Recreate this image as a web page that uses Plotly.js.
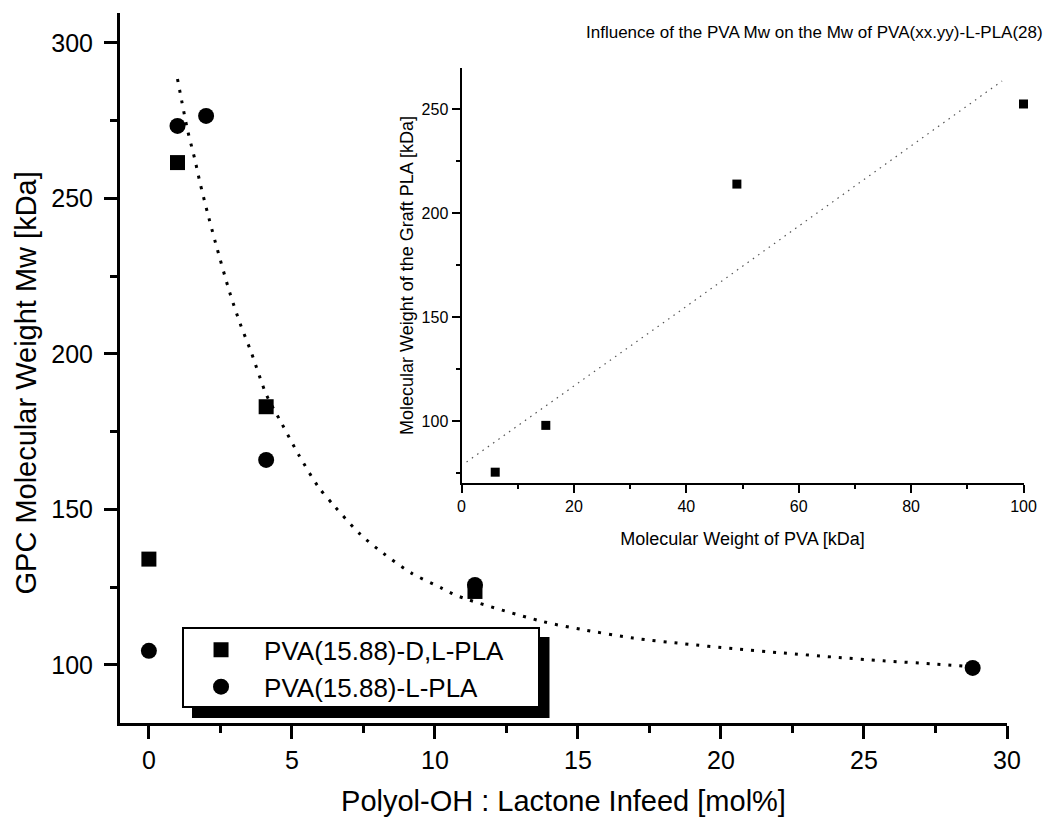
<!DOCTYPE html>
<html>
<head>
<meta charset="utf-8">
<script src="https://cdn.plot.ly/plotly-3.0.1.min.js"></script>
<style>html,body{margin:0;padding:0;background:#fff;}#chart{width:1052px;height:817px;}</style>
</head>
<body>
<div id="chart"></div>
<script>
// ---- Main chart data ----
const dlX = [0, 1, 4.1, 11.4];
const dlY = [134, 261.5, 183, 123.6];
const lX = [0, 1, 2, 4.1, 11.4, 28.8];
const lY = [104.5, 273.3, 276.5, 165.9, 125.7, 99.0];
const fitX = [1.00,1.14,1.35,1.61,1.78,2.04,2.33,2.83,3.18,3.59,4.11,4.64,5.24,5.92,6.50,7.41,8.19,9.18,10.23,10.84,13.78,15.19,16.93,18.68,20.43,22.18,23.93,25.68,27.42,28.59];
const fitY = [288.4,281.7,272.0,262.4,255.3,245.7,235.7,219.6,210.0,200.2,186.8,177.7,167.5,157.3,150.9,141.8,135.9,129.5,124.7,122.0,113.9,111.3,108.6,106.8,105.2,103.8,102.5,101.3,100.3,99.5];
const seriesNames = ["PVA(15.88)-D,L-PLA", "PVA(15.88)-L-PLA"];

// ---- Inset data ----
const insetX = [6, 15, 49, 100];
const insetY = [75.5, 98, 214, 252.5];
const insetFitX = [0.9, 38.5, 96.2];
const insetFitY = [80.4, 152.3, 263.6];

const titles = {
  mainX: "Polyol-OH : Lactone Infeed [mol%]",
  mainY: "GPC Molecular Weight Mw [kDa]",
  insetTitle: "Influence of the PVA Mw on the Mw of PVA(xx.yy)-L-PLA(28)",
  insetX: "Molecular Weight of PVA [kDa]",
  insetY: "Molecular Weight of the Graft PLA [kDa]"
};

const FONT = "Liberation Sans, Arial, Helvetica, sans-serif";

const traces = [
  {x: fitX, y: fitY, type: 'scatter', mode: 'lines', xaxis: 'x', yaxis: 'y',
   line: {color: '#000', width: 3, dash: '3px,8px', shape: 'spline', smoothing: 0.8},
   showlegend: false, hoverinfo: 'skip'},
  {x: dlX, y: dlY, type: 'scatter', mode: 'markers', name: seriesNames[0], xaxis: 'x', yaxis: 'y',
   marker: {symbol: 'square', size: 15, color: '#000'}, cliponaxis: false},
  {x: lX, y: lY, type: 'scatter', mode: 'markers', name: seriesNames[1], xaxis: 'x', yaxis: 'y',
   marker: {symbol: 'circle', size: 16, color: '#000'}, cliponaxis: false},
  {x: insetFitX, y: insetFitY, type: 'scatter', mode: 'lines', xaxis: 'x2', yaxis: 'y2',
   line: {color: '#555', width: 1.2, dash: '1.5px,5px'}, showlegend: false, hoverinfo: 'skip'},
  {x: insetX, y: insetY, type: 'scatter', mode: 'markers', xaxis: 'x2', yaxis: 'y2',
   marker: {symbol: 'square', size: 9, color: '#000'}, showlegend: false, cliponaxis: false}
];

const mainAxis = {
  showline: true, linewidth: 3, linecolor: '#000', mirror: false,
  showgrid: false, zeroline: false,
  ticks: 'outside', ticklen: 13, tickwidth: 3, tickcolor: '#000',
  tickfont: {family: FONT, size: 25, color: '#000'}
};

const layout = {
  width: 1052, height: 817,
  paper_bgcolor: '#fff', plot_bgcolor: 'rgba(0,0,0,0)',
  margin: {l: 120, r: 28, t: 13, b: 94, pad: 0},
  font: {family: FONT, color: '#000'},
  showlegend: true,
  legend: {
    x: 0.0642, y: 0.136, xanchor: 'left', yanchor: 'top',
    bgcolor: 'rgba(0,0,0,0)', borderwidth: 0,
    font: {family: FONT, size: 26, color: '#000'},
    itemwidth: 76, tracegroupgap: 0
  },
  xaxis: Object.assign({}, mainAxis, {
    domain: [0, 0.98119], range: [-1.01, 30.0], anchor: 'y',
    tick0: 0, dtick: 5,
    minor: {ticks: 'outside', ticklen: 7, tickwidth: 3, tickcolor: '#000', dtick: 2.5, tick0: 0, showgrid: false},
    title: {text: titles.mainX, font: {family: FONT, size: 29, color: '#000'}, standoff: 19}
  }),
  yaxis: Object.assign({}, mainAxis, {
    domain: [0, 1], range: [81.3, 309.6], anchor: 'x',
    tick0: 0, dtick: 50, ticklabelstandoff: 6,
    minor: {ticks: 'outside', ticklen: 7, tickwidth: 3, tickcolor: '#000', dtick: 25, tick0: 0, showgrid: false}
  }),
  xaxis2: {
    domain: [0.37777, 0.99945], range: [0, 100], anchor: 'y2',
    showline: true, linewidth: 2, linecolor: '#000', showgrid: false, zeroline: false,
    ticks: 'outside', ticklen: 8, tickwidth: 2, tickcolor: '#000', tick0: 0, dtick: 20,
    minor: {ticks: 'outside', ticklen: 4, tickwidth: 2, tickcolor: '#000', dtick: 10, tick0: 0, showgrid: false},
    tickfont: {family: FONT, size: 16, color: '#000'},
    title: {text: titles.insetX, font: {family: FONT, size: 18, color: '#000'}, standoff: 18}
  },
  yaxis2: {
    domain: [0.33803, 0.92254], range: [70.3, 269.8], anchor: 'x2',
    showline: true, linewidth: 2, linecolor: '#000', showgrid: false, zeroline: false,
    ticks: 'outside', ticklen: 8, tickwidth: 2, tickcolor: '#000', tick0: 0, dtick: 50,
    minor: {ticks: 'outside', ticklen: 4, tickwidth: 2, tickcolor: '#000', dtick: 25, tick0: 0, showgrid: false},
    tickfont: {family: FONT, size: 16, color: '#000'},
    title: {text: titles.insetY, font: {family: FONT, size: 18, color: '#000'}, standoff: 3}
  },
  annotations: [
    {text: titles.insetTitle, xref: 'paper', yref: 'paper', x: 0.7688, y: 0.9732,
     xanchor: 'center', yanchor: 'middle', showarrow: false,
     font: {family: FONT, size: 17, color: '#000'}},
    {text: titles.mainY, xref: 'paper', yref: 'paper', x: -0.1045, y: 0.4789,
     xanchor: 'center', yanchor: 'middle', textangle: -90, showarrow: false,
     font: {family: FONT, size: 29, color: '#000'}}
  ],
  shapes: [
    {type: 'rect', xref: 'paper', yref: 'paper', x0: 0.07965, x1: 0.47511, y0: 0.00704, y1: 0.12113,
     fillcolor: '#000', line: {width: 0}, layer: 'above'},
    {type: 'rect', xref: 'paper', yref: 'paper', x0: 0.06969, x1: 0.46350, y0: 0.02254, y1: 0.13380,
     fillcolor: '#fff', line: {color: '#000', width: 2}, layer: 'above'}
  ]
};

Plotly.newPlot('chart', traces, layout, {displayModeBar: false, staticPlot: true});
</script>
</body>
</html>
